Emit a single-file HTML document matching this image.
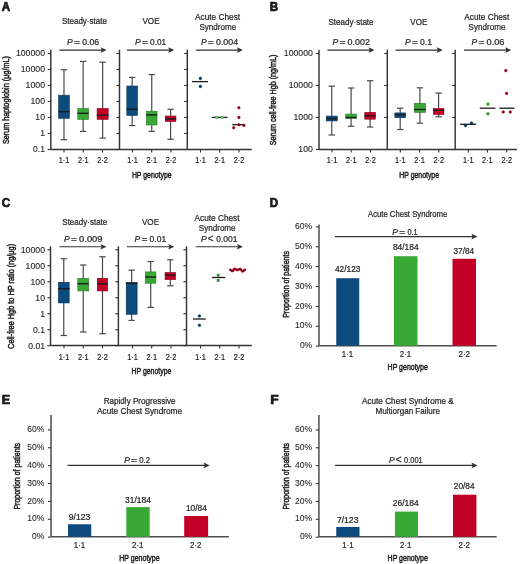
<!DOCTYPE html>
<html><head><meta charset="utf-8"><style>
html,body{margin:0;padding:0;background:#fff;}
svg{display:block;will-change:transform;}
text{font-family:"Liberation Sans",sans-serif;fill:#231f20;stroke:#231f20;stroke-width:0.22px;}
</style></head><body>
<svg width="520" height="564" viewBox="0 0 520 564">
<rect width="520" height="564" fill="#fff"/>
<text x="1.80" y="10.80" font-size="12.2" textLength="8.40" lengthAdjust="spacingAndGlyphs" font-weight="bold" fill="#000" style="stroke:#000;stroke-width:0.6px">A</text>
<text x="269.80" y="10.80" font-size="12.2" textLength="8.40" lengthAdjust="spacingAndGlyphs" font-weight="bold" fill="#000" style="stroke:#000;stroke-width:0.6px">B</text>
<text x="1.80" y="207.30" font-size="12.2" textLength="8.40" lengthAdjust="spacingAndGlyphs" font-weight="bold" fill="#000" style="stroke:#000;stroke-width:0.6px">C</text>
<text x="269.80" y="207.30" font-size="12.2" textLength="8.40" lengthAdjust="spacingAndGlyphs" font-weight="bold" fill="#000" style="stroke:#000;stroke-width:0.6px">D</text>
<text x="1.80" y="403.80" font-size="12.2" textLength="8.40" lengthAdjust="spacingAndGlyphs" font-weight="bold" fill="#000" style="stroke:#000;stroke-width:0.6px">E</text>
<text x="270.30" y="403.80" font-size="12.2" textLength="8.40" lengthAdjust="spacingAndGlyphs" font-weight="bold" fill="#000" style="stroke:#000;stroke-width:0.6px">F</text>
<line x1="50.80" y1="49.70" x2="50.80" y2="149.50" stroke="#333333" stroke-width="1.45"/>
<line x1="47.70" y1="149.50" x2="50.80" y2="149.50" stroke="#333333" stroke-width="1.1"/>
<line x1="47.70" y1="133.50" x2="50.80" y2="133.50" stroke="#333333" stroke-width="1.1"/>
<line x1="47.70" y1="117.50" x2="50.80" y2="117.50" stroke="#333333" stroke-width="1.1"/>
<line x1="47.70" y1="101.50" x2="50.80" y2="101.50" stroke="#333333" stroke-width="1.1"/>
<line x1="47.70" y1="85.50" x2="50.80" y2="85.50" stroke="#333333" stroke-width="1.1"/>
<line x1="47.70" y1="69.50" x2="50.80" y2="69.50" stroke="#333333" stroke-width="1.1"/>
<line x1="47.70" y1="53.50" x2="50.80" y2="53.50" stroke="#333333" stroke-width="1.1"/>
<line x1="119.50" y1="49.70" x2="119.50" y2="149.50" stroke="#333333" stroke-width="1.45"/>
<line x1="116.40" y1="149.50" x2="119.50" y2="149.50" stroke="#333333" stroke-width="1.1"/>
<line x1="116.40" y1="133.50" x2="119.50" y2="133.50" stroke="#333333" stroke-width="1.1"/>
<line x1="116.40" y1="117.50" x2="119.50" y2="117.50" stroke="#333333" stroke-width="1.1"/>
<line x1="116.40" y1="101.50" x2="119.50" y2="101.50" stroke="#333333" stroke-width="1.1"/>
<line x1="116.40" y1="85.50" x2="119.50" y2="85.50" stroke="#333333" stroke-width="1.1"/>
<line x1="116.40" y1="69.50" x2="119.50" y2="69.50" stroke="#333333" stroke-width="1.1"/>
<line x1="116.40" y1="53.50" x2="119.50" y2="53.50" stroke="#333333" stroke-width="1.1"/>
<line x1="187.30" y1="49.70" x2="187.30" y2="149.50" stroke="#333333" stroke-width="1.45"/>
<line x1="184.20" y1="149.50" x2="187.30" y2="149.50" stroke="#333333" stroke-width="1.1"/>
<line x1="184.20" y1="133.50" x2="187.30" y2="133.50" stroke="#333333" stroke-width="1.1"/>
<line x1="184.20" y1="117.50" x2="187.30" y2="117.50" stroke="#333333" stroke-width="1.1"/>
<line x1="184.20" y1="101.50" x2="187.30" y2="101.50" stroke="#333333" stroke-width="1.1"/>
<line x1="184.20" y1="85.50" x2="187.30" y2="85.50" stroke="#333333" stroke-width="1.1"/>
<line x1="184.20" y1="69.50" x2="187.30" y2="69.50" stroke="#333333" stroke-width="1.1"/>
<line x1="184.20" y1="53.50" x2="187.30" y2="53.50" stroke="#333333" stroke-width="1.1"/>
<line x1="50.80" y1="149.50" x2="251.80" y2="149.50" stroke="#333333" stroke-width="1.45"/>
<line x1="64.00" y1="149.50" x2="64.00" y2="152.50" stroke="#333333" stroke-width="1.1"/>
<line x1="83.20" y1="149.50" x2="83.20" y2="152.50" stroke="#333333" stroke-width="1.1"/>
<line x1="102.50" y1="149.50" x2="102.50" y2="152.50" stroke="#333333" stroke-width="1.1"/>
<line x1="132.50" y1="149.50" x2="132.50" y2="152.50" stroke="#333333" stroke-width="1.1"/>
<line x1="151.70" y1="149.50" x2="151.70" y2="152.50" stroke="#333333" stroke-width="1.1"/>
<line x1="171.00" y1="149.50" x2="171.00" y2="152.50" stroke="#333333" stroke-width="1.1"/>
<line x1="200.50" y1="149.50" x2="200.50" y2="152.50" stroke="#333333" stroke-width="1.1"/>
<line x1="219.70" y1="149.50" x2="219.70" y2="152.50" stroke="#333333" stroke-width="1.1"/>
<line x1="239.00" y1="149.50" x2="239.00" y2="152.50" stroke="#333333" stroke-width="1.1"/>
<text x="15.90" y="56.45" font-size="8.5" textLength="29.10" lengthAdjust="spacingAndGlyphs" style="stroke-width:0.12px">100000</text>
<text x="20.75" y="72.45" font-size="8.5" textLength="24.25" lengthAdjust="spacingAndGlyphs" style="stroke-width:0.12px">10000</text>
<text x="25.60" y="88.45" font-size="8.5" textLength="19.40" lengthAdjust="spacingAndGlyphs" style="stroke-width:0.12px">1000</text>
<text x="30.45" y="104.45" font-size="8.5" textLength="14.55" lengthAdjust="spacingAndGlyphs" style="stroke-width:0.12px">100</text>
<text x="35.30" y="120.45" font-size="8.5" textLength="9.70" lengthAdjust="spacingAndGlyphs" style="stroke-width:0.12px">10</text>
<text x="40.15" y="136.45" font-size="8.5" textLength="4.85" lengthAdjust="spacingAndGlyphs" style="stroke-width:0.12px">1</text>
<text x="33.10" y="152.45" font-size="8.5" textLength="11.90" lengthAdjust="spacingAndGlyphs" style="stroke-width:0.12px">0.1</text>
<text x="64.00" y="163.40" font-size="8.9" text-anchor="middle" textLength="10.60" lengthAdjust="spacingAndGlyphs" >1·1</text>
<text x="83.20" y="163.40" font-size="8.9" text-anchor="middle" textLength="10.60" lengthAdjust="spacingAndGlyphs" >2·1</text>
<text x="102.50" y="163.40" font-size="8.9" text-anchor="middle" textLength="10.60" lengthAdjust="spacingAndGlyphs" >2·2</text>
<text x="132.50" y="163.40" font-size="8.9" text-anchor="middle" textLength="10.60" lengthAdjust="spacingAndGlyphs" >1·1</text>
<text x="151.70" y="163.40" font-size="8.9" text-anchor="middle" textLength="10.60" lengthAdjust="spacingAndGlyphs" >2·1</text>
<text x="171.00" y="163.40" font-size="8.9" text-anchor="middle" textLength="10.60" lengthAdjust="spacingAndGlyphs" >2·2</text>
<text x="200.50" y="163.40" font-size="8.9" text-anchor="middle" textLength="10.60" lengthAdjust="spacingAndGlyphs" >1·1</text>
<text x="219.70" y="163.40" font-size="8.9" text-anchor="middle" textLength="10.60" lengthAdjust="spacingAndGlyphs" >2·1</text>
<text x="239.00" y="163.40" font-size="8.9" text-anchor="middle" textLength="10.60" lengthAdjust="spacingAndGlyphs" >2·2</text>
<text x="131.90" y="177.50" font-size="9.4" textLength="39.70" lengthAdjust="spacingAndGlyphs" style="stroke-width:0.5px">HP genotype</text>
<text x="8.60" y="144.10" font-size="9.2" textLength="88.00" lengthAdjust="spacingAndGlyphs" transform="rotate(-90 8.60 144.10)" style="stroke-width:0.5px">Serum haptoglobin (μg/mL)</text>
<text x="61.90" y="23.70" font-size="8.5" textLength="45.00" lengthAdjust="spacingAndGlyphs" >Steady·state</text>
<text x="142.50" y="23.70" font-size="8.5" textLength="17.00" lengthAdjust="spacingAndGlyphs" >VOE</text>
<text x="195.10" y="19.90" font-size="8.5" textLength="45.00" lengthAdjust="spacingAndGlyphs" >Acute Chest</text>
<text x="199.40" y="29.50" font-size="8.5" textLength="36.80" lengthAdjust="spacingAndGlyphs" >Syndrome</text>
<text x="67.10" y="44.90" font-size="8.6" font-style="italic" textLength="5.7" lengthAdjust="spacingAndGlyphs">P</text>
<text x="74.00" y="44.90" font-size="8.6" textLength="6.0" lengthAdjust="spacingAndGlyphs">=</text>
<text x="82.20" y="44.90" font-size="8.6" textLength="16.90" lengthAdjust="spacingAndGlyphs">0.06</text>
<text x="135.00" y="44.90" font-size="8.6" font-style="italic" textLength="5.7" lengthAdjust="spacingAndGlyphs">P</text>
<text x="141.90" y="44.90" font-size="8.6" textLength="6.0" lengthAdjust="spacingAndGlyphs">=</text>
<text x="150.10" y="44.90" font-size="8.6" textLength="15.90" lengthAdjust="spacingAndGlyphs">0.01</text>
<text x="200.90" y="44.80" font-size="8.6" font-style="italic" textLength="5.7" lengthAdjust="spacingAndGlyphs">P</text>
<text x="207.80" y="44.80" font-size="8.6" textLength="6.0" lengthAdjust="spacingAndGlyphs">=</text>
<text x="216.00" y="44.80" font-size="8.6" textLength="22.10" lengthAdjust="spacingAndGlyphs">0.004</text>
<line x1="59.40" y1="50.10" x2="102.30" y2="50.10" stroke="#333333" stroke-width="1.1"/>
<path d="M106.60,50.10 L100.50,47.30 L101.70,50.10 L100.50,52.90 Z" fill="#333333"/>
<line x1="127.00" y1="50.10" x2="170.00" y2="50.10" stroke="#333333" stroke-width="1.1"/>
<path d="M174.30,50.10 L168.20,47.30 L169.40,50.10 L168.20,52.90 Z" fill="#333333"/>
<line x1="195.80" y1="50.10" x2="238.70" y2="50.10" stroke="#333333" stroke-width="1.1"/>
<path d="M243.00,50.10 L236.90,47.30 L238.10,50.10 L236.90,52.90 Z" fill="#333333"/>
<line x1="63.98" y1="69.70" x2="63.98" y2="139.70" stroke="#4a4a4a" stroke-width="1.2"/>
<line x1="60.77" y1="69.70" x2="67.17" y2="69.70" stroke="#4a4a4a" stroke-width="1.2"/>
<line x1="60.77" y1="139.70" x2="67.17" y2="139.70" stroke="#4a4a4a" stroke-width="1.2"/>
<rect x="58.60" y="95.20" width="10.75" height="23.10" fill="#0d4a7e" stroke="#08345e" stroke-width="0.6"/>
<line x1="58.30" y1="111.70" x2="69.65" y2="111.70" stroke="#1a1a1a" stroke-width="1.4"/>
<line x1="83.15" y1="61.40" x2="83.15" y2="131.40" stroke="#4a4a4a" stroke-width="1.2"/>
<line x1="79.95" y1="61.40" x2="86.35" y2="61.40" stroke="#4a4a4a" stroke-width="1.2"/>
<line x1="79.95" y1="131.40" x2="86.35" y2="131.40" stroke="#4a4a4a" stroke-width="1.2"/>
<rect x="77.80" y="108.50" width="10.70" height="10.90" fill="#38a934" stroke="#257a22" stroke-width="0.6"/>
<line x1="77.50" y1="113.30" x2="88.80" y2="113.30" stroke="#1a1a1a" stroke-width="1.4"/>
<line x1="102.65" y1="62.20" x2="102.65" y2="138.10" stroke="#4a4a4a" stroke-width="1.2"/>
<line x1="99.45" y1="62.20" x2="105.85" y2="62.20" stroke="#4a4a4a" stroke-width="1.2"/>
<line x1="99.45" y1="138.10" x2="105.85" y2="138.10" stroke="#4a4a4a" stroke-width="1.2"/>
<rect x="97.10" y="108.50" width="11.10" height="10.90" fill="#c20026" stroke="#8e001b" stroke-width="0.6"/>
<line x1="96.80" y1="115.20" x2="108.50" y2="115.20" stroke="#1a1a1a" stroke-width="1.4"/>
<line x1="132.15" y1="77.40" x2="132.15" y2="125.60" stroke="#4a4a4a" stroke-width="1.2"/>
<line x1="128.95" y1="77.40" x2="135.35" y2="77.40" stroke="#4a4a4a" stroke-width="1.2"/>
<line x1="128.95" y1="125.60" x2="135.35" y2="125.60" stroke="#4a4a4a" stroke-width="1.2"/>
<rect x="126.80" y="86.00" width="10.70" height="29.40" fill="#0d4a7e" stroke="#08345e" stroke-width="0.6"/>
<line x1="126.50" y1="109.30" x2="137.80" y2="109.30" stroke="#1a1a1a" stroke-width="1.4"/>
<line x1="151.75" y1="74.60" x2="151.75" y2="131.40" stroke="#4a4a4a" stroke-width="1.2"/>
<line x1="148.55" y1="74.60" x2="154.95" y2="74.60" stroke="#4a4a4a" stroke-width="1.2"/>
<line x1="148.55" y1="131.40" x2="154.95" y2="131.40" stroke="#4a4a4a" stroke-width="1.2"/>
<rect x="146.50" y="111.20" width="10.50" height="13.80" fill="#38a934" stroke="#257a22" stroke-width="0.6"/>
<line x1="146.20" y1="114.90" x2="157.30" y2="114.90" stroke="#1a1a1a" stroke-width="1.4"/>
<line x1="170.60" y1="109.30" x2="170.60" y2="139.30" stroke="#4a4a4a" stroke-width="1.2"/>
<line x1="167.40" y1="109.30" x2="173.80" y2="109.30" stroke="#4a4a4a" stroke-width="1.2"/>
<line x1="167.40" y1="139.30" x2="173.80" y2="139.30" stroke="#4a4a4a" stroke-width="1.2"/>
<rect x="165.30" y="116.00" width="10.60" height="5.50" fill="#c20026" stroke="#8e001b" stroke-width="0.6"/>
<line x1="165.00" y1="118.90" x2="176.20" y2="118.90" stroke="#1a1a1a" stroke-width="1.4"/>
<line x1="192.00" y1="81.60" x2="208.00" y2="81.60" stroke="#1a1a1a" stroke-width="1.3"/>
<circle cx="200.40" cy="78.40" r="1.30" fill="#0b3560" stroke="#06203c" stroke-width="0.5"/>
<circle cx="200.40" cy="86.40" r="1.30" fill="#0b3560" stroke="#06203c" stroke-width="0.5"/>
<line x1="211.90" y1="117.40" x2="227.50" y2="117.40" stroke="#1a1a1a" stroke-width="1.3"/>
<circle cx="216.70" cy="117.40" r="1.30" fill="#7fd07a" stroke="#2e8a2c" stroke-width="0.5"/>
<circle cx="222.20" cy="117.40" r="1.30" fill="#7fd07a" stroke="#2e8a2c" stroke-width="0.5"/>
<line x1="232.30" y1="124.70" x2="245.20" y2="124.70" stroke="#1a1a1a" stroke-width="1.3"/>
<circle cx="238.90" cy="107.70" r="1.30" fill="#b0001f" stroke="#6e0012" stroke-width="0.5"/>
<circle cx="238.90" cy="117.40" r="1.30" fill="#b0001f" stroke="#6e0012" stroke-width="0.5"/>
<circle cx="238.90" cy="124.70" r="1.30" fill="#b0001f" stroke="#6e0012" stroke-width="0.5"/>
<circle cx="243.80" cy="125.40" r="1.30" fill="#b0001f" stroke="#6e0012" stroke-width="0.5"/>
<circle cx="233.70" cy="127.70" r="1.30" fill="#b0001f" stroke="#6e0012" stroke-width="0.5"/>
<line x1="319.00" y1="49.70" x2="319.00" y2="149.50" stroke="#333333" stroke-width="1.45"/>
<line x1="315.90" y1="149.50" x2="319.00" y2="149.50" stroke="#333333" stroke-width="1.1"/>
<line x1="315.90" y1="117.50" x2="319.00" y2="117.50" stroke="#333333" stroke-width="1.1"/>
<line x1="315.90" y1="85.50" x2="319.00" y2="85.50" stroke="#333333" stroke-width="1.1"/>
<line x1="315.90" y1="53.50" x2="319.00" y2="53.50" stroke="#333333" stroke-width="1.1"/>
<line x1="387.30" y1="49.70" x2="387.30" y2="149.50" stroke="#333333" stroke-width="1.45"/>
<line x1="384.20" y1="149.50" x2="387.30" y2="149.50" stroke="#333333" stroke-width="1.1"/>
<line x1="384.20" y1="117.50" x2="387.30" y2="117.50" stroke="#333333" stroke-width="1.1"/>
<line x1="384.20" y1="85.50" x2="387.30" y2="85.50" stroke="#333333" stroke-width="1.1"/>
<line x1="384.20" y1="53.50" x2="387.30" y2="53.50" stroke="#333333" stroke-width="1.1"/>
<line x1="455.20" y1="49.70" x2="455.20" y2="149.50" stroke="#333333" stroke-width="1.45"/>
<line x1="452.10" y1="149.50" x2="455.20" y2="149.50" stroke="#333333" stroke-width="1.1"/>
<line x1="452.10" y1="117.50" x2="455.20" y2="117.50" stroke="#333333" stroke-width="1.1"/>
<line x1="452.10" y1="85.50" x2="455.20" y2="85.50" stroke="#333333" stroke-width="1.1"/>
<line x1="452.10" y1="53.50" x2="455.20" y2="53.50" stroke="#333333" stroke-width="1.1"/>
<line x1="319.00" y1="149.50" x2="517.00" y2="149.50" stroke="#333333" stroke-width="1.45"/>
<line x1="332.00" y1="149.50" x2="332.00" y2="152.50" stroke="#333333" stroke-width="1.1"/>
<line x1="351.20" y1="149.50" x2="351.20" y2="152.50" stroke="#333333" stroke-width="1.1"/>
<line x1="370.50" y1="149.50" x2="370.50" y2="152.50" stroke="#333333" stroke-width="1.1"/>
<line x1="400.30" y1="149.50" x2="400.30" y2="152.50" stroke="#333333" stroke-width="1.1"/>
<line x1="419.50" y1="149.50" x2="419.50" y2="152.50" stroke="#333333" stroke-width="1.1"/>
<line x1="438.80" y1="149.50" x2="438.80" y2="152.50" stroke="#333333" stroke-width="1.1"/>
<line x1="468.20" y1="149.50" x2="468.20" y2="152.50" stroke="#333333" stroke-width="1.1"/>
<line x1="487.40" y1="149.50" x2="487.40" y2="152.50" stroke="#333333" stroke-width="1.1"/>
<line x1="506.70" y1="149.50" x2="506.70" y2="152.50" stroke="#333333" stroke-width="1.1"/>
<text x="283.80" y="56.45" font-size="8.5" textLength="29.10" lengthAdjust="spacingAndGlyphs" style="stroke-width:0.12px">100000</text>
<text x="288.65" y="88.45" font-size="8.5" textLength="24.25" lengthAdjust="spacingAndGlyphs" style="stroke-width:0.12px">10000</text>
<text x="293.50" y="120.45" font-size="8.5" textLength="19.40" lengthAdjust="spacingAndGlyphs" style="stroke-width:0.12px">1000</text>
<text x="298.35" y="152.45" font-size="8.5" textLength="14.55" lengthAdjust="spacingAndGlyphs" style="stroke-width:0.12px">100</text>
<text x="332.00" y="163.40" font-size="8.9" text-anchor="middle" textLength="10.60" lengthAdjust="spacingAndGlyphs" >1·1</text>
<text x="351.20" y="163.40" font-size="8.9" text-anchor="middle" textLength="10.60" lengthAdjust="spacingAndGlyphs" >2·1</text>
<text x="370.50" y="163.40" font-size="8.9" text-anchor="middle" textLength="10.60" lengthAdjust="spacingAndGlyphs" >2·2</text>
<text x="400.30" y="163.40" font-size="8.9" text-anchor="middle" textLength="10.60" lengthAdjust="spacingAndGlyphs" >1·1</text>
<text x="419.50" y="163.40" font-size="8.9" text-anchor="middle" textLength="10.60" lengthAdjust="spacingAndGlyphs" >2·1</text>
<text x="438.80" y="163.40" font-size="8.9" text-anchor="middle" textLength="10.60" lengthAdjust="spacingAndGlyphs" >2·2</text>
<text x="468.20" y="163.40" font-size="8.9" text-anchor="middle" textLength="10.60" lengthAdjust="spacingAndGlyphs" >1·1</text>
<text x="487.40" y="163.40" font-size="8.9" text-anchor="middle" textLength="10.60" lengthAdjust="spacingAndGlyphs" >2·1</text>
<text x="506.70" y="163.40" font-size="8.9" text-anchor="middle" textLength="10.60" lengthAdjust="spacingAndGlyphs" >2·2</text>
<text x="399.30" y="177.50" font-size="9.4" textLength="39.70" lengthAdjust="spacingAndGlyphs" style="stroke-width:0.5px">HP genotype</text>
<text x="276.50" y="145.30" font-size="9.2" textLength="90.80" lengthAdjust="spacingAndGlyphs" transform="rotate(-90 276.50 145.30)" style="stroke-width:0.5px">Serum cell-free Hgb (ng/mL)</text>
<text x="328.40" y="24.80" font-size="8.5" textLength="45.20" lengthAdjust="spacingAndGlyphs" >Steady·state</text>
<text x="410.30" y="24.60" font-size="8.5" textLength="17.00" lengthAdjust="spacingAndGlyphs" >VOE</text>
<text x="464.30" y="20.00" font-size="8.5" textLength="45.00" lengthAdjust="spacingAndGlyphs" >Acute Chest</text>
<text x="468.60" y="30.00" font-size="8.5" textLength="36.80" lengthAdjust="spacingAndGlyphs" >Syndrome</text>
<text x="332.50" y="44.90" font-size="8.6" font-style="italic" textLength="5.7" lengthAdjust="spacingAndGlyphs">P</text>
<text x="339.40" y="44.90" font-size="8.6" textLength="6.0" lengthAdjust="spacingAndGlyphs">=</text>
<text x="347.60" y="44.90" font-size="8.6" textLength="22.40" lengthAdjust="spacingAndGlyphs">0.002</text>
<text x="405.00" y="44.90" font-size="8.6" font-style="italic" textLength="5.7" lengthAdjust="spacingAndGlyphs">P</text>
<text x="411.90" y="44.90" font-size="8.6" textLength="6.0" lengthAdjust="spacingAndGlyphs">=</text>
<text x="420.10" y="44.90" font-size="8.6" textLength="11.90" lengthAdjust="spacingAndGlyphs">0.1</text>
<text x="471.50" y="44.90" font-size="8.6" font-style="italic" textLength="5.7" lengthAdjust="spacingAndGlyphs">P</text>
<text x="478.40" y="44.90" font-size="8.6" textLength="6.0" lengthAdjust="spacingAndGlyphs">=</text>
<text x="486.60" y="44.90" font-size="8.6" textLength="17.90" lengthAdjust="spacingAndGlyphs">0.06</text>
<line x1="327.40" y1="50.10" x2="370.30" y2="50.10" stroke="#333333" stroke-width="1.1"/>
<path d="M374.60,50.10 L368.50,47.30 L369.70,50.10 L368.50,52.90 Z" fill="#333333"/>
<line x1="395.50" y1="50.10" x2="438.50" y2="50.10" stroke="#333333" stroke-width="1.1"/>
<path d="M442.80,50.10 L436.70,47.30 L437.90,50.10 L436.70,52.90 Z" fill="#333333"/>
<line x1="464.00" y1="50.10" x2="507.00" y2="50.10" stroke="#333333" stroke-width="1.1"/>
<path d="M511.30,50.10 L505.20,47.30 L506.40,50.10 L505.20,52.90 Z" fill="#333333"/>
<line x1="331.75" y1="86.20" x2="331.75" y2="135.00" stroke="#4a4a4a" stroke-width="1.2"/>
<line x1="328.55" y1="86.20" x2="334.95" y2="86.20" stroke="#4a4a4a" stroke-width="1.2"/>
<line x1="328.55" y1="135.00" x2="334.95" y2="135.00" stroke="#4a4a4a" stroke-width="1.2"/>
<rect x="326.30" y="116.05" width="10.90" height="4.90" fill="#0d4a7e" stroke="#08345e" stroke-width="0.6"/>
<line x1="326.00" y1="118.75" x2="337.50" y2="118.75" stroke="#1a1a1a" stroke-width="1.4"/>
<line x1="351.12" y1="88.00" x2="351.12" y2="126.25" stroke="#4a4a4a" stroke-width="1.2"/>
<line x1="347.93" y1="88.00" x2="354.32" y2="88.00" stroke="#4a4a4a" stroke-width="1.2"/>
<line x1="347.93" y1="126.25" x2="354.32" y2="126.25" stroke="#4a4a4a" stroke-width="1.2"/>
<rect x="345.80" y="114.05" width="10.65" height="4.40" fill="#38a934" stroke="#257a22" stroke-width="0.6"/>
<line x1="345.50" y1="117.50" x2="356.75" y2="117.50" stroke="#1a1a1a" stroke-width="1.4"/>
<line x1="370.12" y1="80.75" x2="370.12" y2="127.00" stroke="#4a4a4a" stroke-width="1.2"/>
<line x1="366.93" y1="80.75" x2="373.32" y2="80.75" stroke="#4a4a4a" stroke-width="1.2"/>
<line x1="366.93" y1="127.00" x2="373.32" y2="127.00" stroke="#4a4a4a" stroke-width="1.2"/>
<rect x="364.80" y="112.30" width="10.65" height="6.90" fill="#c20026" stroke="#8e001b" stroke-width="0.6"/>
<line x1="364.50" y1="115.75" x2="375.75" y2="115.75" stroke="#1a1a1a" stroke-width="1.4"/>
<line x1="400.20" y1="108.20" x2="400.20" y2="129.50" stroke="#4a4a4a" stroke-width="1.2"/>
<line x1="397.00" y1="108.20" x2="403.40" y2="108.20" stroke="#4a4a4a" stroke-width="1.2"/>
<line x1="397.00" y1="129.50" x2="403.40" y2="129.50" stroke="#4a4a4a" stroke-width="1.2"/>
<rect x="394.90" y="112.90" width="10.60" height="4.80" fill="#0d4a7e" stroke="#08345e" stroke-width="0.6"/>
<line x1="394.60" y1="114.70" x2="405.80" y2="114.70" stroke="#1a1a1a" stroke-width="1.4"/>
<line x1="419.90" y1="87.80" x2="419.90" y2="123.20" stroke="#4a4a4a" stroke-width="1.2"/>
<line x1="416.70" y1="87.80" x2="423.10" y2="87.80" stroke="#4a4a4a" stroke-width="1.2"/>
<line x1="416.70" y1="123.20" x2="423.10" y2="123.20" stroke="#4a4a4a" stroke-width="1.2"/>
<rect x="414.30" y="103.30" width="11.20" height="9.00" fill="#38a934" stroke="#257a22" stroke-width="0.6"/>
<line x1="414.00" y1="109.50" x2="425.80" y2="109.50" stroke="#1a1a1a" stroke-width="1.4"/>
<line x1="438.60" y1="93.10" x2="438.60" y2="116.80" stroke="#4a4a4a" stroke-width="1.2"/>
<line x1="435.40" y1="93.10" x2="441.80" y2="93.10" stroke="#4a4a4a" stroke-width="1.2"/>
<line x1="435.40" y1="116.80" x2="441.80" y2="116.80" stroke="#4a4a4a" stroke-width="1.2"/>
<rect x="433.30" y="108.50" width="10.60" height="5.90" fill="#c20026" stroke="#8e001b" stroke-width="0.6"/>
<line x1="433.00" y1="110.30" x2="444.20" y2="110.30" stroke="#1a1a1a" stroke-width="1.4"/>
<line x1="460.20" y1="124.30" x2="476.00" y2="124.30" stroke="#1a1a1a" stroke-width="1.3"/>
<circle cx="465.50" cy="125.60" r="1.30" fill="#0b3560" stroke="#06203c" stroke-width="0.5"/>
<circle cx="471.50" cy="123.00" r="1.30" fill="#0b3560" stroke="#06203c" stroke-width="0.5"/>
<line x1="479.80" y1="108.20" x2="495.40" y2="108.20" stroke="#1a1a1a" stroke-width="1.3"/>
<rect x="486.50" y="102.70" width="2.8" height="2.8" fill="#2f8f32"/>
<rect x="486.50" y="112.40" width="2.8" height="2.8" fill="#2f8f32"/>
<line x1="499.30" y1="108.20" x2="514.40" y2="108.20" stroke="#1a1a1a" stroke-width="1.3"/>
<circle cx="505.80" cy="70.60" r="1.30" fill="#b0001f" stroke="#6e0012" stroke-width="0.5"/>
<circle cx="506.60" cy="93.40" r="1.30" fill="#b0001f" stroke="#6e0012" stroke-width="0.5"/>
<circle cx="503.20" cy="112.00" r="1.30" fill="#b0001f" stroke="#6e0012" stroke-width="0.5"/>
<circle cx="510.20" cy="112.00" r="1.30" fill="#b0001f" stroke="#6e0012" stroke-width="0.5"/>
<line x1="50.50" y1="246.30" x2="50.50" y2="345.75" stroke="#333333" stroke-width="1.45"/>
<line x1="47.40" y1="345.75" x2="50.50" y2="345.75" stroke="#333333" stroke-width="1.1"/>
<line x1="47.40" y1="329.75" x2="50.50" y2="329.75" stroke="#333333" stroke-width="1.1"/>
<line x1="47.40" y1="313.75" x2="50.50" y2="313.75" stroke="#333333" stroke-width="1.1"/>
<line x1="47.40" y1="297.75" x2="50.50" y2="297.75" stroke="#333333" stroke-width="1.1"/>
<line x1="47.40" y1="281.75" x2="50.50" y2="281.75" stroke="#333333" stroke-width="1.1"/>
<line x1="47.40" y1="265.75" x2="50.50" y2="265.75" stroke="#333333" stroke-width="1.1"/>
<line x1="47.40" y1="249.75" x2="50.50" y2="249.75" stroke="#333333" stroke-width="1.1"/>
<line x1="118.40" y1="246.30" x2="118.40" y2="345.75" stroke="#333333" stroke-width="1.45"/>
<line x1="115.30" y1="345.75" x2="118.40" y2="345.75" stroke="#333333" stroke-width="1.1"/>
<line x1="115.30" y1="329.75" x2="118.40" y2="329.75" stroke="#333333" stroke-width="1.1"/>
<line x1="115.30" y1="313.75" x2="118.40" y2="313.75" stroke="#333333" stroke-width="1.1"/>
<line x1="115.30" y1="297.75" x2="118.40" y2="297.75" stroke="#333333" stroke-width="1.1"/>
<line x1="115.30" y1="281.75" x2="118.40" y2="281.75" stroke="#333333" stroke-width="1.1"/>
<line x1="115.30" y1="265.75" x2="118.40" y2="265.75" stroke="#333333" stroke-width="1.1"/>
<line x1="115.30" y1="249.75" x2="118.40" y2="249.75" stroke="#333333" stroke-width="1.1"/>
<line x1="186.50" y1="246.30" x2="186.50" y2="345.75" stroke="#333333" stroke-width="1.45"/>
<line x1="183.40" y1="345.75" x2="186.50" y2="345.75" stroke="#333333" stroke-width="1.1"/>
<line x1="183.40" y1="329.75" x2="186.50" y2="329.75" stroke="#333333" stroke-width="1.1"/>
<line x1="183.40" y1="313.75" x2="186.50" y2="313.75" stroke="#333333" stroke-width="1.1"/>
<line x1="183.40" y1="297.75" x2="186.50" y2="297.75" stroke="#333333" stroke-width="1.1"/>
<line x1="183.40" y1="281.75" x2="186.50" y2="281.75" stroke="#333333" stroke-width="1.1"/>
<line x1="183.40" y1="265.75" x2="186.50" y2="265.75" stroke="#333333" stroke-width="1.1"/>
<line x1="183.40" y1="249.75" x2="186.50" y2="249.75" stroke="#333333" stroke-width="1.1"/>
<line x1="50.50" y1="345.50" x2="251.80" y2="345.50" stroke="#333333" stroke-width="1.45"/>
<line x1="64.00" y1="345.50" x2="64.00" y2="348.50" stroke="#333333" stroke-width="1.1"/>
<line x1="83.20" y1="345.50" x2="83.20" y2="348.50" stroke="#333333" stroke-width="1.1"/>
<line x1="102.50" y1="345.50" x2="102.50" y2="348.50" stroke="#333333" stroke-width="1.1"/>
<line x1="132.50" y1="345.50" x2="132.50" y2="348.50" stroke="#333333" stroke-width="1.1"/>
<line x1="151.70" y1="345.50" x2="151.70" y2="348.50" stroke="#333333" stroke-width="1.1"/>
<line x1="171.00" y1="345.50" x2="171.00" y2="348.50" stroke="#333333" stroke-width="1.1"/>
<line x1="200.50" y1="345.50" x2="200.50" y2="348.50" stroke="#333333" stroke-width="1.1"/>
<line x1="219.70" y1="345.50" x2="219.70" y2="348.50" stroke="#333333" stroke-width="1.1"/>
<line x1="239.00" y1="345.50" x2="239.00" y2="348.50" stroke="#333333" stroke-width="1.1"/>
<text x="20.75" y="252.70" font-size="8.5" textLength="24.25" lengthAdjust="spacingAndGlyphs" style="stroke-width:0.12px">10000</text>
<text x="25.60" y="268.70" font-size="8.5" textLength="19.40" lengthAdjust="spacingAndGlyphs" style="stroke-width:0.12px">1000</text>
<text x="30.45" y="284.70" font-size="8.5" textLength="14.55" lengthAdjust="spacingAndGlyphs" style="stroke-width:0.12px">100</text>
<text x="35.30" y="300.70" font-size="8.5" textLength="9.70" lengthAdjust="spacingAndGlyphs" style="stroke-width:0.12px">10</text>
<text x="40.15" y="316.70" font-size="8.5" textLength="4.85" lengthAdjust="spacingAndGlyphs" style="stroke-width:0.12px">1</text>
<text x="33.10" y="332.70" font-size="8.5" textLength="11.90" lengthAdjust="spacingAndGlyphs" style="stroke-width:0.12px">0.1</text>
<text x="28.25" y="348.70" font-size="8.5" textLength="16.75" lengthAdjust="spacingAndGlyphs" style="stroke-width:0.12px">0.01</text>
<text x="64.00" y="359.80" font-size="8.9" text-anchor="middle" textLength="10.60" lengthAdjust="spacingAndGlyphs" >1·1</text>
<text x="83.20" y="359.80" font-size="8.9" text-anchor="middle" textLength="10.60" lengthAdjust="spacingAndGlyphs" >2·1</text>
<text x="102.50" y="359.80" font-size="8.9" text-anchor="middle" textLength="10.60" lengthAdjust="spacingAndGlyphs" >2·2</text>
<text x="132.50" y="359.80" font-size="8.9" text-anchor="middle" textLength="10.60" lengthAdjust="spacingAndGlyphs" >1·1</text>
<text x="151.70" y="359.80" font-size="8.9" text-anchor="middle" textLength="10.60" lengthAdjust="spacingAndGlyphs" >2·1</text>
<text x="171.00" y="359.80" font-size="8.9" text-anchor="middle" textLength="10.60" lengthAdjust="spacingAndGlyphs" >2·2</text>
<text x="200.50" y="359.80" font-size="8.9" text-anchor="middle" textLength="10.60" lengthAdjust="spacingAndGlyphs" >1·1</text>
<text x="219.70" y="359.80" font-size="8.9" text-anchor="middle" textLength="10.60" lengthAdjust="spacingAndGlyphs" >2·1</text>
<text x="239.00" y="359.80" font-size="8.9" text-anchor="middle" textLength="10.60" lengthAdjust="spacingAndGlyphs" >2·2</text>
<text x="131.60" y="373.70" font-size="9.4" textLength="39.70" lengthAdjust="spacingAndGlyphs" style="stroke-width:0.5px">HP genotype</text>
<text x="13.80" y="348.90" font-size="9.2" textLength="105.00" lengthAdjust="spacingAndGlyphs" transform="rotate(-90 13.80 348.90)" style="stroke-width:0.5px">Cell-free Hgb to HP ratio (ng/μg)</text>
<text x="62.30" y="225.40" font-size="8.5" textLength="45.00" lengthAdjust="spacingAndGlyphs" >Steady·state</text>
<text x="142.00" y="225.40" font-size="8.5" textLength="17.00" lengthAdjust="spacingAndGlyphs" >VOE</text>
<text x="194.50" y="221.40" font-size="8.5" textLength="45.00" lengthAdjust="spacingAndGlyphs" >Acute Chest</text>
<text x="198.80" y="231.00" font-size="8.5" textLength="36.80" lengthAdjust="spacingAndGlyphs" >Syndrome</text>
<text x="64.00" y="241.50" font-size="8.6" font-style="italic" textLength="5.7" lengthAdjust="spacingAndGlyphs">P</text>
<text x="70.90" y="241.50" font-size="8.6" textLength="6.0" lengthAdjust="spacingAndGlyphs">=</text>
<text x="79.10" y="241.50" font-size="8.6" textLength="23.40" lengthAdjust="spacingAndGlyphs">0.009</text>
<text x="134.50" y="241.50" font-size="8.6" font-style="italic" textLength="5.7" lengthAdjust="spacingAndGlyphs">P</text>
<text x="141.40" y="241.50" font-size="8.6" textLength="6.0" lengthAdjust="spacingAndGlyphs">=</text>
<text x="149.60" y="241.50" font-size="8.6" textLength="16.60" lengthAdjust="spacingAndGlyphs">0.01</text>
<text x="201.00" y="241.50" font-size="8.6" font-style="italic" textLength="5.7" lengthAdjust="spacingAndGlyphs">P</text>
<text x="207.80" y="241.50" font-size="11.2" textLength="5.8" lengthAdjust="spacingAndGlyphs">&lt;</text>
<text x="216.20" y="241.50" font-size="8.6" textLength="21.20" lengthAdjust="spacingAndGlyphs">0.001</text>
<line x1="59.40" y1="246.80" x2="102.30" y2="246.80" stroke="#333333" stroke-width="1.1"/>
<path d="M106.60,246.80 L100.50,244.00 L101.70,246.80 L100.50,249.60 Z" fill="#333333"/>
<line x1="127.00" y1="246.80" x2="170.00" y2="246.80" stroke="#333333" stroke-width="1.1"/>
<path d="M174.30,246.80 L168.20,244.00 L169.40,246.80 L168.20,249.60 Z" fill="#333333"/>
<line x1="195.70" y1="246.80" x2="238.70" y2="246.80" stroke="#333333" stroke-width="1.1"/>
<path d="M243.00,246.80 L236.90,244.00 L238.10,246.80 L236.90,249.60 Z" fill="#333333"/>
<line x1="63.75" y1="258.75" x2="63.75" y2="335.50" stroke="#4a4a4a" stroke-width="1.2"/>
<line x1="60.55" y1="258.75" x2="66.95" y2="258.75" stroke="#4a4a4a" stroke-width="1.2"/>
<line x1="60.55" y1="335.50" x2="66.95" y2="335.50" stroke="#4a4a4a" stroke-width="1.2"/>
<rect x="58.30" y="282.30" width="10.90" height="20.65" fill="#0d4a7e" stroke="#08345e" stroke-width="0.6"/>
<line x1="58.00" y1="288.75" x2="69.50" y2="288.75" stroke="#1a1a1a" stroke-width="1.4"/>
<line x1="83.25" y1="265.00" x2="83.25" y2="332.00" stroke="#4a4a4a" stroke-width="1.2"/>
<line x1="80.05" y1="265.00" x2="86.45" y2="265.00" stroke="#4a4a4a" stroke-width="1.2"/>
<line x1="80.05" y1="332.00" x2="86.45" y2="332.00" stroke="#4a4a4a" stroke-width="1.2"/>
<rect x="77.80" y="278.30" width="10.90" height="12.65" fill="#38a934" stroke="#257a22" stroke-width="0.6"/>
<line x1="77.50" y1="283.75" x2="89.00" y2="283.75" stroke="#1a1a1a" stroke-width="1.4"/>
<line x1="102.50" y1="256.75" x2="102.50" y2="333.75" stroke="#4a4a4a" stroke-width="1.2"/>
<line x1="99.30" y1="256.75" x2="105.70" y2="256.75" stroke="#4a4a4a" stroke-width="1.2"/>
<line x1="99.30" y1="333.75" x2="105.70" y2="333.75" stroke="#4a4a4a" stroke-width="1.2"/>
<rect x="97.30" y="278.30" width="10.40" height="12.65" fill="#c20026" stroke="#8e001b" stroke-width="0.6"/>
<line x1="97.00" y1="283.75" x2="108.00" y2="283.75" stroke="#1a1a1a" stroke-width="1.4"/>
<line x1="131.65" y1="270.20" x2="131.65" y2="320.40" stroke="#4a4a4a" stroke-width="1.2"/>
<line x1="128.45" y1="270.20" x2="134.85" y2="270.20" stroke="#4a4a4a" stroke-width="1.2"/>
<line x1="128.45" y1="320.40" x2="134.85" y2="320.40" stroke="#4a4a4a" stroke-width="1.2"/>
<rect x="126.20" y="282.60" width="10.90" height="31.70" fill="#0d4a7e" stroke="#08345e" stroke-width="0.6"/>
<line x1="125.90" y1="283.30" x2="137.40" y2="283.30" stroke="#1a1a1a" stroke-width="1.4"/>
<line x1="150.70" y1="261.50" x2="150.70" y2="307.40" stroke="#4a4a4a" stroke-width="1.2"/>
<line x1="147.50" y1="261.50" x2="153.90" y2="261.50" stroke="#4a4a4a" stroke-width="1.2"/>
<line x1="147.50" y1="307.40" x2="153.90" y2="307.40" stroke="#4a4a4a" stroke-width="1.2"/>
<rect x="145.50" y="271.90" width="10.40" height="11.30" fill="#38a934" stroke="#257a22" stroke-width="0.6"/>
<line x1="145.20" y1="277.00" x2="156.20" y2="277.00" stroke="#1a1a1a" stroke-width="1.4"/>
<line x1="170.30" y1="259.80" x2="170.30" y2="285.80" stroke="#4a4a4a" stroke-width="1.2"/>
<line x1="167.10" y1="259.80" x2="173.50" y2="259.80" stroke="#4a4a4a" stroke-width="1.2"/>
<line x1="167.10" y1="285.80" x2="173.50" y2="285.80" stroke="#4a4a4a" stroke-width="1.2"/>
<rect x="165.10" y="272.50" width="10.40" height="7.20" fill="#c20026" stroke="#8e001b" stroke-width="0.6"/>
<line x1="164.80" y1="275.00" x2="175.80" y2="275.00" stroke="#1a1a1a" stroke-width="1.4"/>
<line x1="193.00" y1="319.00" x2="205.80" y2="319.00" stroke="#1a1a1a" stroke-width="1.3"/>
<circle cx="199.40" cy="316.00" r="1.30" fill="#0b3560" stroke="#06203c" stroke-width="0.5"/>
<circle cx="199.40" cy="325.30" r="1.30" fill="#0b3560" stroke="#06203c" stroke-width="0.5"/>
<line x1="212.10" y1="277.50" x2="225.10" y2="277.50" stroke="#1a1a1a" stroke-width="1.3"/>
<rect x="216.80" y="273.80" width="2.8" height="2.8" fill="#2f8f32"/>
<rect x="216.80" y="279.00" width="2.8" height="2.8" fill="#2f8f32"/>
<polyline points="230.2,269.8 232.5,271.1 234.8,268.7 237.5,270.1 240.1,268.7 242.6,271.5 245.0,269.7" fill="none" stroke="#b0001f" stroke-width="2.4" stroke-linejoin="round" stroke-linecap="round"/>
<polyline points="230.2,269.8 232.5,271.1 234.8,268.7 237.5,270.1 240.1,268.7 242.6,271.5 245.0,269.7" fill="none" stroke="#5a0010" stroke-width="0.8" stroke-linejoin="round" stroke-linecap="round"/>
<line x1="319.00" y1="224.50" x2="319.00" y2="345.75" stroke="#4d4d4d" stroke-width="1.5"/>
<line x1="315.90" y1="346.15" x2="319.00" y2="346.15" stroke="#333333" stroke-width="1.1"/>
<line x1="315.90" y1="326.27" x2="319.00" y2="326.27" stroke="#333333" stroke-width="1.1"/>
<line x1="315.90" y1="306.40" x2="319.00" y2="306.40" stroke="#333333" stroke-width="1.1"/>
<line x1="315.90" y1="286.52" x2="319.00" y2="286.52" stroke="#333333" stroke-width="1.1"/>
<line x1="315.90" y1="266.65" x2="319.00" y2="266.65" stroke="#333333" stroke-width="1.1"/>
<line x1="315.90" y1="246.78" x2="319.00" y2="246.78" stroke="#333333" stroke-width="1.1"/>
<line x1="315.90" y1="226.90" x2="319.00" y2="226.90" stroke="#333333" stroke-width="1.1"/>
<line x1="319.00" y1="345.75" x2="496.70" y2="345.75" stroke="#4d4d4d" stroke-width="1.5"/>
<text x="299.90" y="348.25" font-size="8.8" textLength="12.30" lengthAdjust="spacingAndGlyphs" style="stroke-width:0.08px">0%</text>
<text x="295.10" y="328.38" font-size="8.8" textLength="17.10" lengthAdjust="spacingAndGlyphs" style="stroke-width:0.08px">10%</text>
<text x="295.10" y="308.50" font-size="8.8" textLength="17.10" lengthAdjust="spacingAndGlyphs" style="stroke-width:0.08px">20%</text>
<text x="295.10" y="288.62" font-size="8.8" textLength="17.10" lengthAdjust="spacingAndGlyphs" style="stroke-width:0.08px">30%</text>
<text x="295.10" y="268.75" font-size="8.8" textLength="17.10" lengthAdjust="spacingAndGlyphs" style="stroke-width:0.08px">40%</text>
<text x="295.10" y="248.88" font-size="8.8" textLength="17.10" lengthAdjust="spacingAndGlyphs" style="stroke-width:0.08px">50%</text>
<text x="295.10" y="229.00" font-size="8.8" textLength="17.10" lengthAdjust="spacingAndGlyphs" style="stroke-width:0.08px">60%</text>
<rect x="336.25" y="278.20" width="23.00" height="67.55" fill="#0d4a7e"/>
<rect x="394.00" y="256.20" width="23.50" height="89.55" fill="#38a934"/>
<rect x="452.50" y="258.80" width="23.50" height="86.95" fill="#c20026"/>
<text x="347.70" y="272.20" font-size="8.2" text-anchor="middle" textLength="25.50" lengthAdjust="spacingAndGlyphs" >42/123</text>
<text x="405.80" y="249.80" font-size="8.2" text-anchor="middle" textLength="25.80" lengthAdjust="spacingAndGlyphs" >84/184</text>
<text x="463.80" y="253.70" font-size="8.2" text-anchor="middle" textLength="20.60" lengthAdjust="spacingAndGlyphs" >37/84</text>
<text x="347.50" y="357.00" font-size="8.9" text-anchor="middle" textLength="11.40" lengthAdjust="spacingAndGlyphs" >1·1</text>
<text x="405.50" y="357.00" font-size="8.9" text-anchor="middle" textLength="11.40" lengthAdjust="spacingAndGlyphs" >2·1</text>
<text x="464.20" y="357.00" font-size="8.9" text-anchor="middle" textLength="11.40" lengthAdjust="spacingAndGlyphs" >2·2</text>
<text x="387.60" y="370.20" font-size="9.4" textLength="40.30" lengthAdjust="spacingAndGlyphs" style="stroke-width:0.5px">HP genotype</text>
<text x="288.60" y="317.80" font-size="9.2" textLength="66.70" lengthAdjust="spacingAndGlyphs" transform="rotate(-90 288.60 317.80)" style="stroke-width:0.5px">Proportion of patients</text>
<text x="368.00" y="217.00" font-size="8.3" textLength="79.30" lengthAdjust="spacingAndGlyphs" >Acute Chest Syndrome</text>
<text x="392.30" y="234.70" font-size="8.6" font-style="italic" textLength="5.7" lengthAdjust="spacingAndGlyphs">P</text>
<text x="399.20" y="234.70" font-size="8.6" textLength="6.0" lengthAdjust="spacingAndGlyphs">=</text>
<text x="407.40" y="234.70" font-size="8.6" textLength="10.10" lengthAdjust="spacingAndGlyphs">0.1</text>
<line x1="335.00" y1="236.60" x2="473.20" y2="236.60" stroke="#333333" stroke-width="1.1"/>
<path d="M477.50,236.60 L471.40,233.80 L472.60,236.60 L471.40,239.40 Z" fill="#333333"/>
<line x1="51.00" y1="415.00" x2="51.00" y2="536.75" stroke="#4d4d4d" stroke-width="1.5"/>
<line x1="47.90" y1="537.15" x2="51.00" y2="537.15" stroke="#333333" stroke-width="1.1"/>
<line x1="47.90" y1="519.27" x2="51.00" y2="519.27" stroke="#333333" stroke-width="1.1"/>
<line x1="47.90" y1="501.40" x2="51.00" y2="501.40" stroke="#333333" stroke-width="1.1"/>
<line x1="47.90" y1="483.52" x2="51.00" y2="483.52" stroke="#333333" stroke-width="1.1"/>
<line x1="47.90" y1="465.65" x2="51.00" y2="465.65" stroke="#333333" stroke-width="1.1"/>
<line x1="47.90" y1="447.77" x2="51.00" y2="447.77" stroke="#333333" stroke-width="1.1"/>
<line x1="47.90" y1="429.90" x2="51.00" y2="429.90" stroke="#333333" stroke-width="1.1"/>
<line x1="51.00" y1="536.75" x2="228.90" y2="536.75" stroke="#4d4d4d" stroke-width="1.5"/>
<text x="32.00" y="539.25" font-size="8.8" textLength="12.30" lengthAdjust="spacingAndGlyphs" style="stroke-width:0.08px">0%</text>
<text x="27.20" y="521.38" font-size="8.8" textLength="17.10" lengthAdjust="spacingAndGlyphs" style="stroke-width:0.08px">10%</text>
<text x="27.20" y="503.50" font-size="8.8" textLength="17.10" lengthAdjust="spacingAndGlyphs" style="stroke-width:0.08px">20%</text>
<text x="27.20" y="485.62" font-size="8.8" textLength="17.10" lengthAdjust="spacingAndGlyphs" style="stroke-width:0.08px">30%</text>
<text x="27.20" y="467.75" font-size="8.8" textLength="17.10" lengthAdjust="spacingAndGlyphs" style="stroke-width:0.08px">40%</text>
<text x="27.20" y="449.88" font-size="8.8" textLength="17.10" lengthAdjust="spacingAndGlyphs" style="stroke-width:0.08px">50%</text>
<text x="27.20" y="432.00" font-size="8.8" textLength="17.10" lengthAdjust="spacingAndGlyphs" style="stroke-width:0.08px">60%</text>
<rect x="68.00" y="524.25" width="23.25" height="12.50" fill="#0d4a7e"/>
<rect x="126.30" y="507.10" width="23.40" height="29.65" fill="#38a934"/>
<rect x="184.20" y="516.00" width="23.90" height="20.75" fill="#c20026"/>
<text x="79.60" y="519.50" font-size="8.2" text-anchor="middle" textLength="21.50" lengthAdjust="spacingAndGlyphs" >9/123</text>
<text x="138.00" y="502.70" font-size="8.2" text-anchor="middle" textLength="25.80" lengthAdjust="spacingAndGlyphs" >31/184</text>
<text x="196.40" y="510.50" font-size="8.2" text-anchor="middle" textLength="20.80" lengthAdjust="spacingAndGlyphs" >10/84</text>
<text x="79.50" y="548.00" font-size="8.9" text-anchor="middle" textLength="11.40" lengthAdjust="spacingAndGlyphs" >1·1</text>
<text x="137.70" y="548.00" font-size="8.9" text-anchor="middle" textLength="11.40" lengthAdjust="spacingAndGlyphs" >2·1</text>
<text x="195.80" y="548.00" font-size="8.9" text-anchor="middle" textLength="11.40" lengthAdjust="spacingAndGlyphs" >2·2</text>
<text x="119.30" y="561.00" font-size="9.4" textLength="40.30" lengthAdjust="spacingAndGlyphs" style="stroke-width:0.5px">HP genotype</text>
<text x="20.20" y="509.60" font-size="9.2" textLength="66.70" lengthAdjust="spacingAndGlyphs" transform="rotate(-90 20.20 509.60)" style="stroke-width:0.5px">Proportion of patients</text>
<text x="103.75" y="404.00" font-size="8.5" textLength="71.80" lengthAdjust="spacingAndGlyphs" >Rapidly Progressive</text>
<text x="97.00" y="414.20" font-size="8.5" textLength="85.10" lengthAdjust="spacingAndGlyphs" >Acute Chest Syndrome</text>
<text x="124.20" y="462.60" font-size="8.6" font-style="italic" textLength="5.7" lengthAdjust="spacingAndGlyphs">P</text>
<text x="131.10" y="462.60" font-size="8.6" textLength="6.0" lengthAdjust="spacingAndGlyphs">=</text>
<text x="139.30" y="462.60" font-size="8.6" textLength="10.80" lengthAdjust="spacingAndGlyphs">0.2</text>
<line x1="67.50" y1="465.40" x2="205.40" y2="465.40" stroke="#333333" stroke-width="1.1"/>
<path d="M209.70,465.40 L203.60,462.60 L204.80,465.40 L203.60,468.20 Z" fill="#333333"/>
<line x1="318.90" y1="415.00" x2="318.90" y2="536.75" stroke="#4d4d4d" stroke-width="1.5"/>
<line x1="315.80" y1="537.15" x2="318.90" y2="537.15" stroke="#333333" stroke-width="1.1"/>
<line x1="315.80" y1="519.27" x2="318.90" y2="519.27" stroke="#333333" stroke-width="1.1"/>
<line x1="315.80" y1="501.40" x2="318.90" y2="501.40" stroke="#333333" stroke-width="1.1"/>
<line x1="315.80" y1="483.52" x2="318.90" y2="483.52" stroke="#333333" stroke-width="1.1"/>
<line x1="315.80" y1="465.65" x2="318.90" y2="465.65" stroke="#333333" stroke-width="1.1"/>
<line x1="315.80" y1="447.77" x2="318.90" y2="447.77" stroke="#333333" stroke-width="1.1"/>
<line x1="315.80" y1="429.90" x2="318.90" y2="429.90" stroke="#333333" stroke-width="1.1"/>
<line x1="318.90" y1="536.75" x2="496.70" y2="536.75" stroke="#4d4d4d" stroke-width="1.5"/>
<text x="299.90" y="539.25" font-size="8.8" textLength="12.30" lengthAdjust="spacingAndGlyphs" style="stroke-width:0.08px">0%</text>
<text x="295.10" y="521.38" font-size="8.8" textLength="17.10" lengthAdjust="spacingAndGlyphs" style="stroke-width:0.08px">10%</text>
<text x="295.10" y="503.50" font-size="8.8" textLength="17.10" lengthAdjust="spacingAndGlyphs" style="stroke-width:0.08px">20%</text>
<text x="295.10" y="485.62" font-size="8.8" textLength="17.10" lengthAdjust="spacingAndGlyphs" style="stroke-width:0.08px">30%</text>
<text x="295.10" y="467.75" font-size="8.8" textLength="17.10" lengthAdjust="spacingAndGlyphs" style="stroke-width:0.08px">40%</text>
<text x="295.10" y="449.88" font-size="8.8" textLength="17.10" lengthAdjust="spacingAndGlyphs" style="stroke-width:0.08px">50%</text>
<text x="295.10" y="432.00" font-size="8.8" textLength="17.10" lengthAdjust="spacingAndGlyphs" style="stroke-width:0.08px">60%</text>
<rect x="336.25" y="527.00" width="23.25" height="9.75" fill="#0d4a7e"/>
<rect x="394.90" y="511.60" width="23.10" height="25.15" fill="#38a934"/>
<rect x="453.00" y="494.70" width="23.40" height="42.05" fill="#c20026"/>
<text x="347.70" y="522.50" font-size="8.2" text-anchor="middle" textLength="21.50" lengthAdjust="spacingAndGlyphs" >7/123</text>
<text x="405.80" y="505.80" font-size="8.2" text-anchor="middle" textLength="26.00" lengthAdjust="spacingAndGlyphs" >26/184</text>
<text x="464.20" y="489.20" font-size="8.2" text-anchor="middle" textLength="20.80" lengthAdjust="spacingAndGlyphs" >20/84</text>
<text x="348.00" y="548.00" font-size="8.9" text-anchor="middle" textLength="11.40" lengthAdjust="spacingAndGlyphs" >1·1</text>
<text x="405.80" y="548.00" font-size="8.9" text-anchor="middle" textLength="11.40" lengthAdjust="spacingAndGlyphs" >2·1</text>
<text x="464.20" y="548.00" font-size="8.9" text-anchor="middle" textLength="11.40" lengthAdjust="spacingAndGlyphs" >2·2</text>
<text x="387.60" y="561.00" font-size="9.4" textLength="40.30" lengthAdjust="spacingAndGlyphs" style="stroke-width:0.5px">HP genotype</text>
<text x="288.60" y="509.60" font-size="9.2" textLength="66.70" lengthAdjust="spacingAndGlyphs" transform="rotate(-90 288.60 509.60)" style="stroke-width:0.5px">Proportion of patients</text>
<text x="362.00" y="404.00" font-size="8.5" textLength="91.80" lengthAdjust="spacingAndGlyphs" >Acute Chest Syndrome &amp;</text>
<text x="375.50" y="414.20" font-size="8.5" textLength="64.50" lengthAdjust="spacingAndGlyphs" >Multiorgan Failure</text>
<text x="388.90" y="462.60" font-size="8.6" font-style="italic" textLength="5.7" lengthAdjust="spacingAndGlyphs">P</text>
<text x="395.70" y="462.60" font-size="11.2" textLength="5.8" lengthAdjust="spacingAndGlyphs">&lt;</text>
<text x="404.10" y="462.60" font-size="8.6" textLength="18.60" lengthAdjust="spacingAndGlyphs">0.001</text>
<line x1="335.00" y1="465.40" x2="473.20" y2="465.40" stroke="#333333" stroke-width="1.1"/>
<path d="M477.50,465.40 L471.40,462.60 L472.60,465.40 L471.40,468.20 Z" fill="#333333"/>
</svg>
</body></html>
